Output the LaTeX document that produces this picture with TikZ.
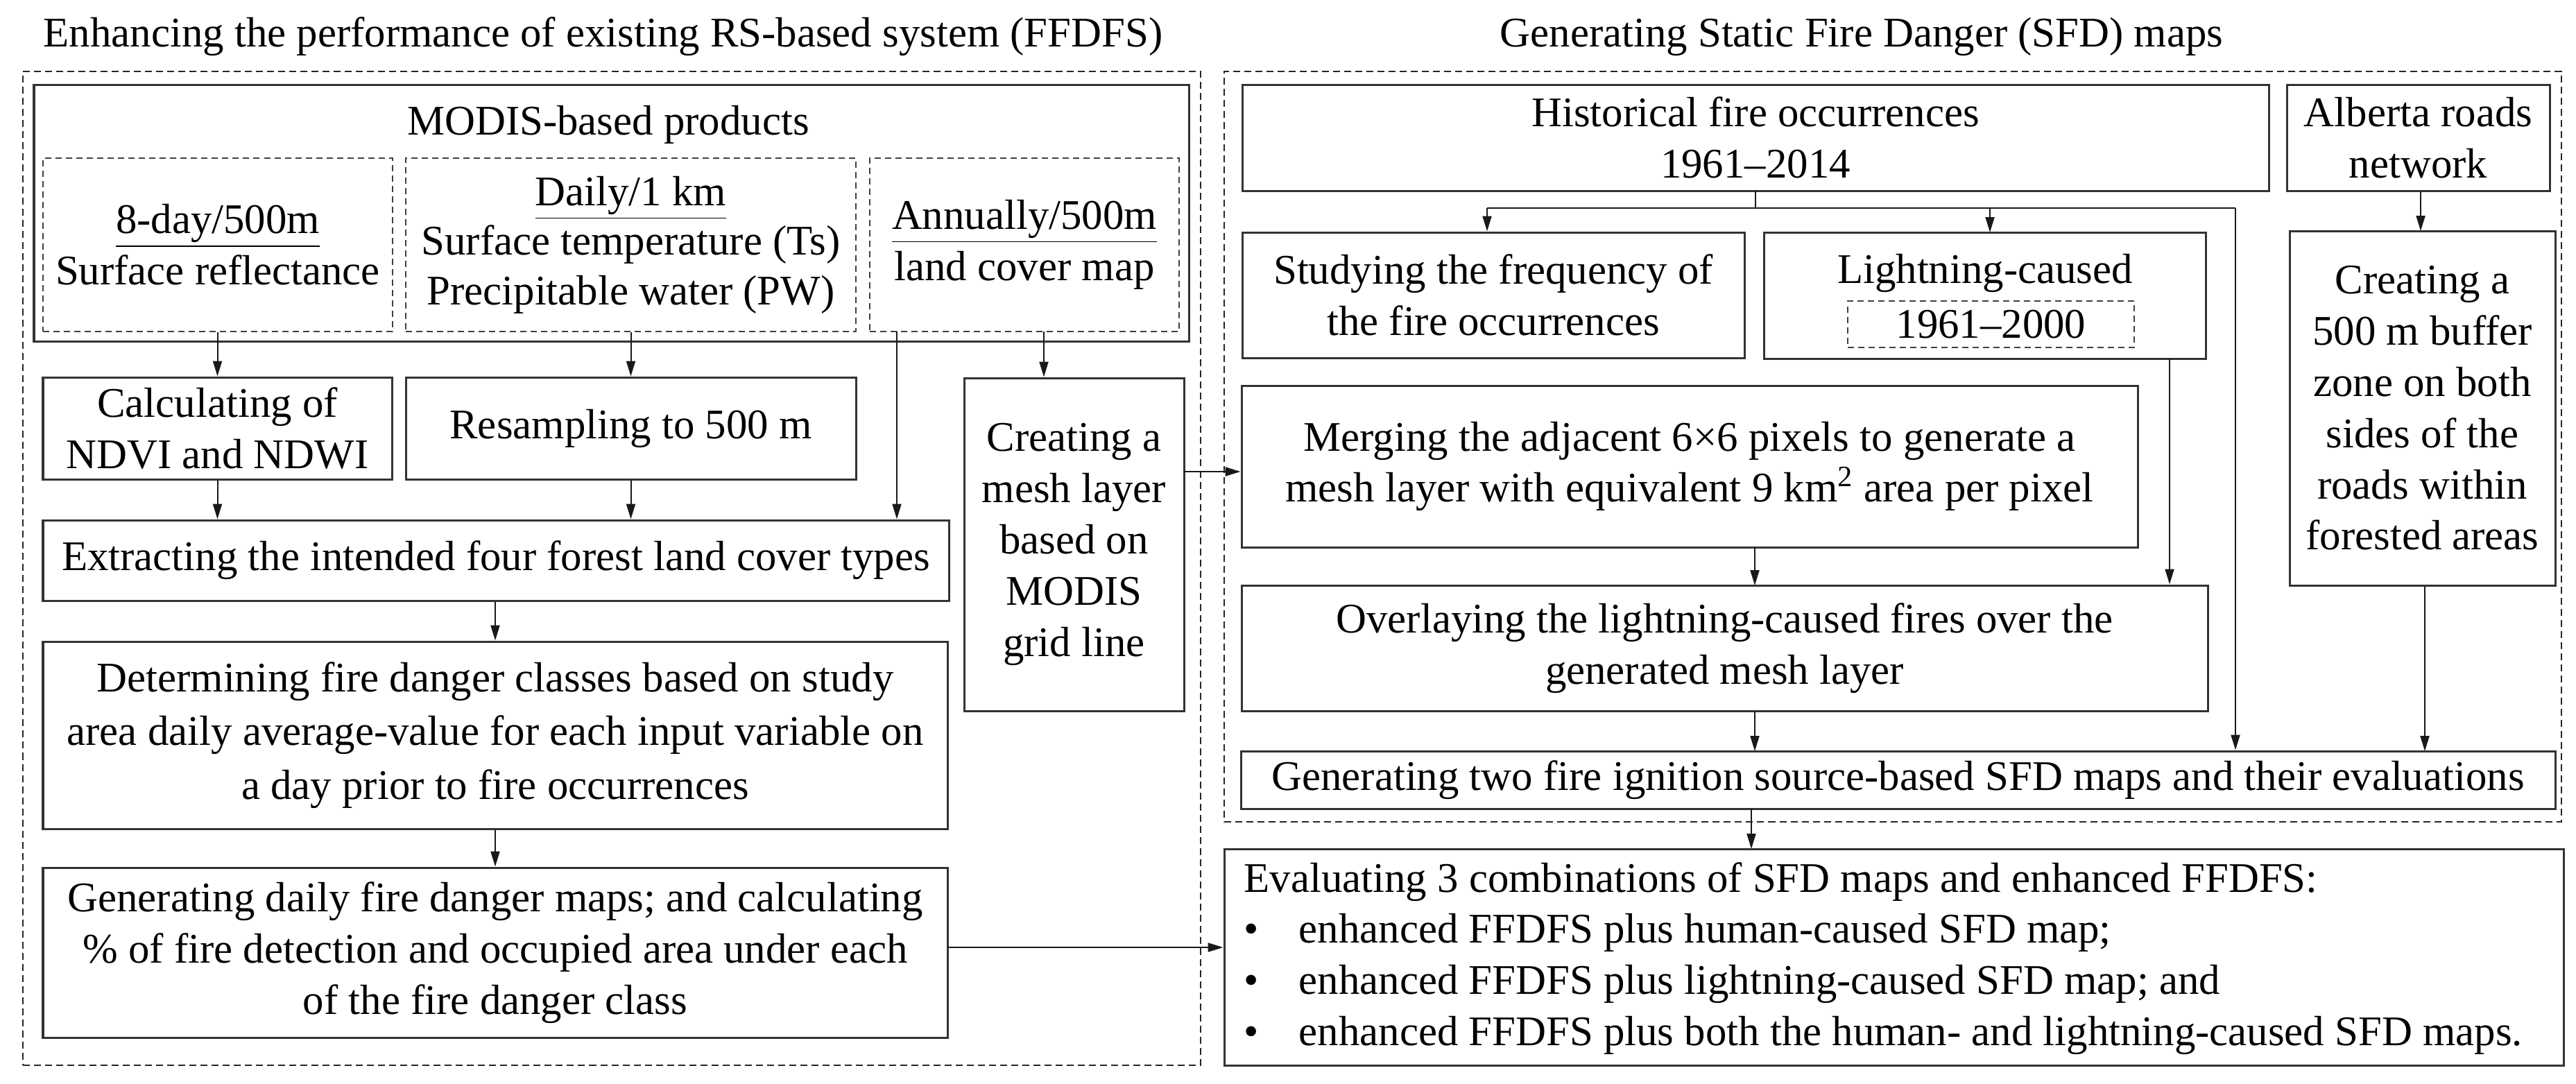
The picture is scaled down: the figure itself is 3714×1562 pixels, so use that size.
\documentclass[tikz,border=0pt]{standalone}
\usepackage{fontspec}
\setmainfont{Liberation Serif}
\usetikzlibrary{fit,arrows.meta}
\newcommand\bxtext[3][]{\node[txt, align=center, inner sep=0pt, #1] (#2-t) at (#2.center) {#3};}
\begin{document}
\begin{tikzpicture}[x=0.01cm,y=-0.01cm,
  txt/.style={font=\fontsize{17.3pt}{21pt}\selectfont},
  box/.style={draw=black!80, line width=0.03cm, inner sep=0pt},
  dbox/.style={draw=black!75, line width=0.02cm, dash pattern=on 0.09cm off 0.06cm, inner sep=0pt},
  outer/.style={draw=black!85, line width=0.025cm, dash pattern=on 0.1cm off 0.06cm, inner sep=0pt},
  arr/.style={draw=black!90, line width=0.02cm, -{Triangle[length=0.22cm,width=0.13cm]}},
  ln/.style={draw=black!90, line width=0.02cm}]
\useasboundingbox (0,0) rectangle (3714,1562);
% titles
\node[txt, anchor=base west, inner sep=0] (t1) at (62,67) {Enhancing the performance of existing RS-based system (FFDFS)};
\node[txt, anchor=base west, inner sep=0] (t2) at (2162,67) {Generating Static Fire Danger (SFD) maps};
% outer dashed areas
\node[outer, fit={(33,103)(1731,1536)}] (L) {};
\node[outer, fit={(1765,103)(3693,1185)}] (R) {};
% left side
\node[box, fit={(49,122)(1714,492)}] (modis) {};
\node[txt, inner sep=0] (modist) at (877,180) {MODIS-based products};
\node[dbox, fit={(62,228)(566,478)}] (s1) {};
\bxtext{s1}{\underline{8-day/500m}\\Surface reflectance}
\node[dbox, fit={(585,228)(1234,478)}] (s2) {};
\bxtext[font=\fontsize{17.3pt}{20.3pt}\selectfont]{s2}{\underline{Daily/1 km}\\Surface temperature (Ts)\\Precipitable water (PW)}
\node[dbox, fit={(1254,228)(1700,478)}] (s3) {};
\bxtext{s3}{\underline{Annually/500m}\\land cover map}
\node[box, fit={(62,544)(565,691)}] (calc) {};
\bxtext{calc}{Calculating of\\NDVI and NDWI}
\node[box, fit={(585,544)(1234,691)}] (res) {};
\bxtext{res}{Resampling to 500 m}
\node[box, fit={(62,750)(1368,866)}] (ext) {};
\bxtext{ext}{Extracting the intended four forest land cover types}
\node[box, fit={(62,925)(1366,1195)}] (det) {};
\bxtext[font=\fontsize{17.3pt}{22pt}\selectfont]{det}{Determining fire danger classes based on study\\area daily average-value for each input variable on\\a day prior to fire occurrences}
\node[box, fit={(62,1251)(1366,1496)}] (gen) {};
\bxtext{gen}{Generating daily fire danger maps; and calculating\\\% of fire detection and occupied area under each\\of the fire danger class}
\node[box, fit={(1390,545)(1707,1025)}] (mesh) {};
\bxtext{mesh}{Creating a\\mesh layer\\based on\\MODIS\\grid line}
% right side
\node[box, fit={(1791,122)(3271,275)}] (hist) {};
\bxtext{hist}{Historical fire occurrences\\1961--2014}
\node[box, fit={(3297,122)(3676,275)}] (alb) {};
\bxtext{alb}{Alberta roads\\network}
\node[box, fit={(1791,335)(2515,516)}] (stud) {};
\bxtext{stud}{Studying the frequency of\\the fire occurrences}
\node[box, fit={(2543,335)(3180,517)}] (light) {};
\node[txt, inner sep=0] (lightt) at (2862,394) {Lightning-caused};
\node[dbox, fit={(2664,434)(3077,501)}] (ly) {};
\bxtext{ly}{1961--2000}
\node[box, fit={(1790,556)(3082,789)}] (merge) {};
\bxtext{merge}{Merging the adjacent 6×6 pixels to generate a\\mesh layer with equivalent 9 km\textsuperscript{2} area per pixel}
\node[box, fit={(1790,844)(3183,1025)}] (over) {};
\bxtext{over}{Overlaying the lightning-caused fires over the\\generated mesh layer}
\node[box, fit={(3301,333)(3684,844)}] (buf) {};
\bxtext{buf}{Creating a\\500 m buffer\\zone on both\\sides of the\\roads within\\forested areas}
\node[box, fit={(1789,1083)(3684,1166)}] (gtwo) {};
\bxtext{gtwo}{Generating two fire ignition source-based SFD maps and their evaluations}
\node[box, fit={(1765,1224)(3696,1536)}] (eval) {};
\node[txt, anchor=west, align=left, inner sep=0] (evalt) at (1793,1382) {Evaluating 3 combinations of SFD maps and enhanced FFDFS:\\
\makebox[0.79cm][l]{\textbullet}enhanced FFDFS plus human-caused SFD map;\\
\makebox[0.79cm][l]{\textbullet}enhanced FFDFS plus lightning-caused SFD map; and\\
\makebox[0.79cm][l]{\textbullet}enhanced FFDFS plus both the human- and lightning-caused SFD maps.};
% connectors left
\draw[arr] (s1.south -| calc.north) -- (calc.north);
\draw[arr] (s2.south -| res.north) -- (res.north);
\draw[arr] (calc.south) -- (calc.south |- ext.north);
\draw[arr] (res.south) -- (res.south |- ext.north);
\coordinate (lc) at (1293,478);
\draw[arr] (lc) -- (lc |- ext.north);
\coordinate (lc2) at (1505,478);
\draw[arr] (lc2) -- (lc2 |- mesh.north);
\draw[arr] (ext.south -| det.north) -- (det.north);
\draw[arr] (det.south) -- (gen.north);
\coordinate (mo) at (1707,680);
\draw[arr] (mo) -- (mo -| merge.west);
\coordinate (go) at (1366,1366);
\draw[arr] (go) -- (go -| eval.west);
% connectors right
\coordinate (h1) at (2531,275);
\coordinate (h2) at (2531,300);
\coordinate (ha) at (2144,300);
\coordinate (hb) at (3223,300);
\draw[ln] (h1) -- (h2);
\draw[ln] (ha) -- (hb);
\draw[arr] (ha) -- (ha |- stud.north);
\draw[arr] (2869,300) -- (2869,335);
\draw[arr] (hb) -- (hb |- gtwo.north);
\coordinate (l1) at (3128,517);
\draw[arr] (l1) -- (l1 |- over.north);
\draw[arr] (2530,789) -- (2530,844);
\draw[arr] (2530,1025) -- (2530,1083);
\draw[arr] (alb.south -| 3490,0) -- (3490,333);
\draw[arr] (buf.south -| 3496,0) -- (3496,1083);
\draw[arr] (2525,1166) -- (2525,1224);
\end{tikzpicture}
\end{document}
